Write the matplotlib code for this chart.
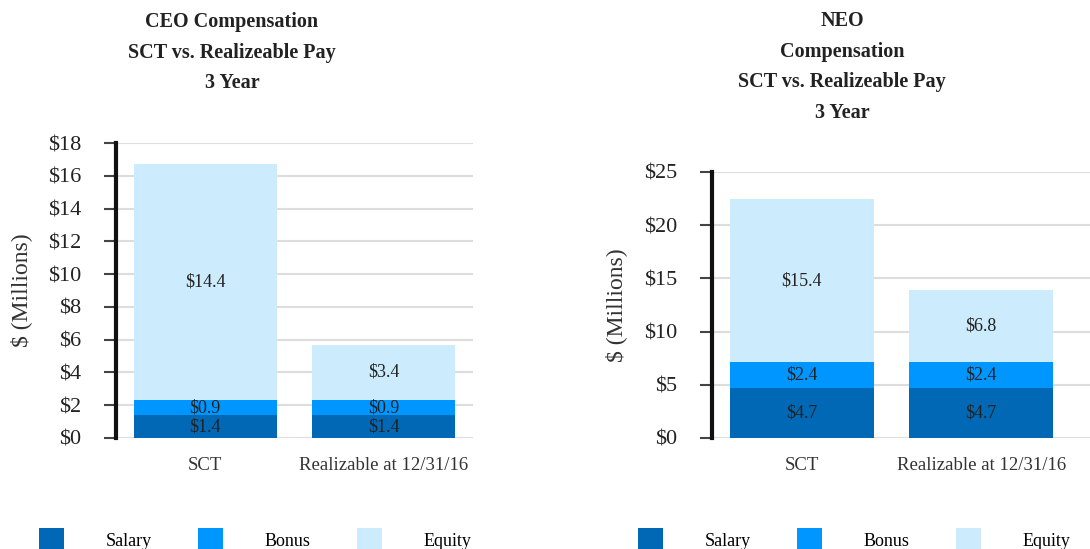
import matplotlib
matplotlib.use("Agg")
import matplotlib.pyplot as plt
from matplotlib.patches import Patch

plt.rcParams['font.family'] = ['Liberation Serif', 'DejaVu Serif']

# Datos
categorias = ['SCT', 'Realizable at 12/31/16']
componentes = ['Salary', 'Bonus', 'Equity']
colores = ['#0068B5', '#0096FF', '#CCEBFC']

ceo_salary = [1.4, 1.4]
ceo_bonus = [0.9, 0.9]
ceo_equity = [14.4, 3.4]

neo_salary = [4.7, 4.7]
neo_bonus = [2.4, 2.4]
neo_equity = [15.4, 6.8]

ceo_ticks = [0, 2, 4, 6, 8, 10, 12, 14, 16, 18]
neo_ticks = [0, 5, 10, 15, 20, 25]

W, H = 1090, 549
fig = plt.figure(figsize=(W / 100, H / 100), dpi=100)


def grafico(rect, salary, bonus, equity, ticks, xmax):
    ax = fig.add_axes(rect)
    x = range(len(categorias))
    base = [0] * len(categorias)
    for serie, col in zip([salary, bonus, equity], colores):
        ax.bar(x, serie, bottom=base, width=0.8, color=col, zorder=2)
        for i, v in enumerate(serie):
            ax.text(i, base[i] + v / 2, '$%.1f' % v, ha='center', va='center',
                    fontsize=13, color='#222222', zorder=3)
        base = [b + v for b, v in zip(base, serie)]
    ax.set_xlim(-0.5, xmax)
    ax.set_ylim(0, ticks[-1])
    ax.set_yticks(ticks)
    ax.set_yticklabels(['$%d' % t for t in ticks], fontsize=16, color='#222222')
    ax.set_xticks(list(x))
    ax.set_xticklabels(categorias, fontsize=13.5, color='#333333')
    ax.yaxis.grid(True, color='#DDDDDD', linewidth=1.5, zorder=0)
    ax.tick_params(axis='y', length=9, width=1.5, color='#444444', pad=16)
    ax.tick_params(axis='x', length=0, pad=14)
    for s in ['top', 'right', 'bottom']:
        ax.spines[s].set_visible(False)
    ax.spines['left'].set_linewidth(3)
    ax.spines['left'].set_color('#111111')
    return ax


ax1 = grafico([116 / W, 111 / H, 357 / W, 295 / H], ceo_salary, ceo_bonus,
              ceo_equity, ceo_ticks, 1.5)
ax2 = grafico([712 / W, 111 / H, 378 / W, 266 / H], neo_salary, neo_bonus,
              neo_equity, neo_ticks, 1.606)

fig.text(21 / W, 1 - 290 / H, '$ (Millions)', rotation=90, ha='center',
         va='center', fontsize=17, color='#333333')
fig.text(616 / W, 1 - 305 / H, '$ (Millions)', rotation=90, ha='center',
         va='center', fontsize=17, color='#333333')

fig.text(232 / W, 1 - 53 / H, 'CEO Compensation\nSCT vs. Realizeable Pay\n3 Year',
         ha='center', va='center', fontsize=14.5, fontweight='bold',
         linespacing=1.7, color='#222222')
fig.text(842 / W, 1 - 67 / H, 'NEO\nCompensation\nSCT vs. Realizeable Pay\n3 Year',
         ha='center', va='center', fontsize=14.5, fontweight='bold',
         linespacing=1.7, color='#222222')

handles = [Patch(facecolor=c, label=l) for c, l in zip(colores, componentes)]
for xc in [39 / W, 638 / W]:
    fig.legend(handles=handles, loc='center left', bbox_to_anchor=(xc - 0.0145, 1 - 540 / H),
               ncol=3, frameon=False, fontsize=13, handlelength=1.35,
               handleheight=1.6, handletextpad=2.3, columnspacing=2.6)

fig.savefig('out.png', dpi=100)
